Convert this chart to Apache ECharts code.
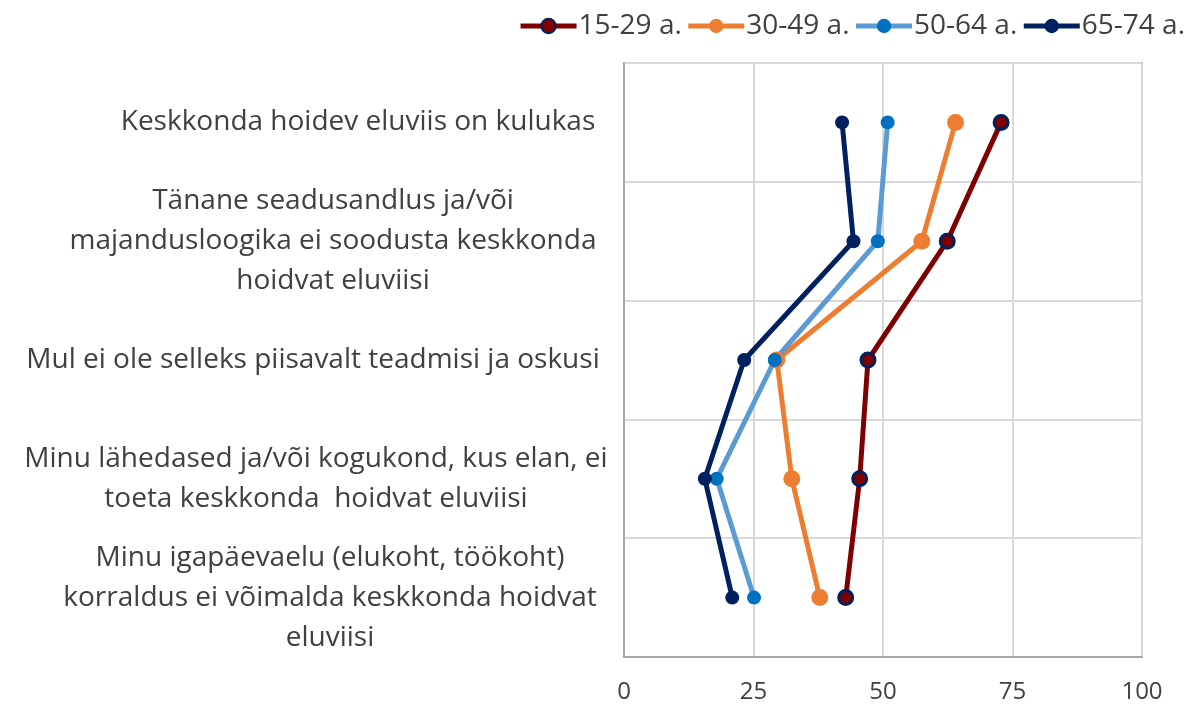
<!DOCTYPE html>
<html>
<head>
<meta charset="utf-8">
<script src="https://cdn.jsdelivr.net/npm/echarts@6/dist/echarts.min.js"></script>
<style>
  html, body { margin: 0; padding: 0; background: #fff; }
  #chart { width: 1196px; height: 708px; }
</style>
</head>
<body>
<div id="chart"></div>
<script>
const categories = [
  'Keskkonda hoidev eluviis on kulukas',
  'Tänane seadusandlus ja/või\nmajandusloogika ei soodusta keskkonda\nhoidvat eluviisi',
  'Mul ei ole selleks piisavalt teadmisi ja oskusi',
  'Minu lähedased ja/või kogukond, kus elan, ei\ntoeta keskkonda  hoidvat eluviisi',
  'Minu igapäevaelu (elukoht, töökoht)\nkorraldus ei võimalda keskkonda hoidvat\neluviisi'
]
const age15_29 = [72.8, 62.4, 47.1, 45.5, 42.8]
const age30_49 = [64.0, 57.5, 29.5, 32.4, 37.8]
const age50_64 = [50.9, 49.0, 29.1, 17.9, 25.1]
const age65_74 = [42.1, 44.3, 23.2, 15.6, 20.9]
const xTicks = [0, 25, 50, 75, 100]

// horizontal nudges for the centred category labels
const labelShift = [28, 3, -17, -14, 0]

const font = '"Open Sans", sans-serif'

const rich = {}
labelShift.forEach((s, i) => {
  rich['r' + i] = {
    fontSize: 28,
    fontFamily: font,
    color: '#404040',
    lineHeight: 40,
    align: 'center',
    padding: s >= 0 ? [0, 0, 0, 2 * s] : [0, -2 * s, 0, 0]
  }
})

const makeSeries = (name, data, color, markerColor, size, border) => ({
  name,
  type: 'line',
  data,
  symbol: 'circle',
  symbolSize: size,
  lineStyle: { color, width: 5 },
  itemStyle: border
    ? { color: markerColor, borderColor: '#002060', borderWidth: 3 }
    : { color: markerColor },
  emphasis: { disabled: true }
})

const option = {
  animation: false,
  backgroundColor: '#fff',
  legend: {
    top: 7,
    right: 6,
    itemWidth: 56,
    itemHeight: 18,
    itemGap: 4,
    lineStyle: { width: 5 },
    textStyle: { fontSize: 28, fontFamily: font, color: '#404040', padding: [0, 0, 0, -3] },
    data: ['15-29 a.', '30-49 a.', '50-64 a.', '65-74 a.']
  },
  grid: {
    left: 624,
    right: 54,
    top: 63,
    bottom: 51,
    show: true,
    borderColor: '#a6a6a6',
    borderWidth: 2,
    containLabel: false
  },
  xAxis: {
    type: 'value',
    min: 0,
    max: 100,
    interval: 25,
    axisLine: { show: true, lineStyle: { color: '#a6a6a6', width: 2 } },
    axisTick: { show: false },
    splitLine: { show: true, lineStyle: { color: '#d9d9d9', width: 2 } },
    axisLabel: {
      margin: 23,
      fontSize: 24,
      fontFamily: font,
      color: '#404040',
      formatter: v => (xTicks.includes(v) ? String(v) : '')
    }
  },
  yAxis: {
    type: 'category',
    inverse: true,
    boundaryGap: true,
    data: categories,
    axisLine: { show: true, lineStyle: { color: '#a6a6a6', width: 2 } },
    axisTick: { show: false },
    splitLine: { show: true, lineStyle: { color: '#d9d9d9', width: 2 } },
    axisLabel: {
      align: 'center',
      margin: 294,
      interval: 0,
      formatter: (v, i) => v.split('\n').map(l => `{r${i}|${l}}`).join('\n'),
      rich
    }
  },
  series: [
    makeSeries('15-29 a.', age15_29, '#7f0000', '#7f0000', 14, true),
    makeSeries('30-49 a.', age30_49, '#ed7d31', '#ed7d31', 17, false),
    makeSeries('50-64 a.', age50_64, '#5b9bd5', '#0070c0', 14, false),
    makeSeries('65-74 a.', age65_74, '#002060', '#002060', 14, false)
  ]
}

const myChart = echarts.init(document.getElementById('chart'))
myChart.setOption(option)
</script>
</body>
</html>
